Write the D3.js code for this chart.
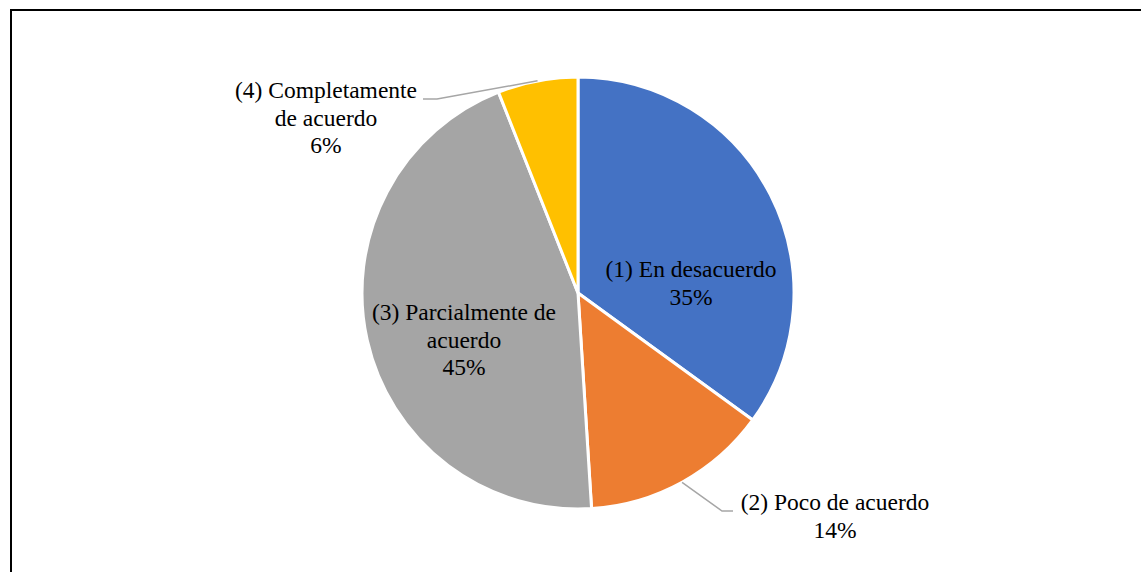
<!DOCTYPE html>
<html>
<head>
<meta charset="utf-8">
<script src="https://cdn.jsdelivr.net/npm/d3@7/dist/d3.min.js"></script>
<style>
  html, body { margin: 0; padding: 0; background: #fff; }
  svg { display: block; }
</style>
</head>
<body>
<svg id="chart" width="1141" height="572"></svg>
<script>
// Response categories and their shares (%)
const categories = [
  "(1) En desacuerdo",
  "(2) Poco de acuerdo",
  "(3) Parcialmente de acuerdo",
  "(4) Completamente de acuerdo"
];
const values = [35, 14, 45, 6];
const colors = ["#4472C4", "#ED7D31", "#A5A5A5", "#FFC000"];
// Label text split into lines
const labelLines = [
  ["(1) En desacuerdo"],
  ["(2) Poco de acuerdo"],
  ["(3) Parcialmente de", "acuerdo"],
  ["(4) Completamente", "de acuerdo"]
];

// Layout
const W = 1141, H = 572;
const cx = 578, cy = 293, R = 216;
const fontFamily = "'Liberation Serif', 'Times New Roman', Times, serif";
const fontSize = 23.5, lineH = 27.5;
// Label anchor (centre x, first baseline y) relative to pie centre, and leader geometry
const labelLayout = [
  { dx: 113, dy: -16, leader: false },
  { dx: 257, dy: 217, leader: true, elbowX: 144, endX: 155 },
  { dx: -114, dy: 27, leader: false },
  { dx: -252, dy: -195, leader: true, elbowX: -141, endX: -155 }
];

const svg = d3.select("#chart");

// Chart area frame
svg.append("rect")
  .attr("x", 11).attr("y", 10)
  .attr("width", W + 100).attr("height", H + 100)
  .attr("fill", "#fff")
  .attr("stroke", "#000")
  .attr("stroke-width", 2);

const pie = d3.pie().sort(null).value(d => d)(values);
const arc = d3.arc().innerRadius(0).outerRadius(R);
const edge = d3.arc().innerRadius(R).outerRadius(R);

const g = svg.append("g").attr("transform", `translate(${cx},${cy})`);

g.selectAll("path.slice")
  .data(pie)
  .join("path")
  .attr("class", "slice")
  .attr("d", arc)
  .attr("fill", (d, i) => colors[i])
  .attr("stroke", "#fff")
  .attr("stroke-width", 3)
  .attr("stroke-linejoin", "round");

// Leader lines for outside labels
pie.forEach((d, i) => {
  const L = labelLayout[i];
  if (!L.leader) return;
  const [px, py] = edge.centroid(d);
  const lineY = L.dy + 1;
  g.append("polyline")
    .attr("points", [[px, py], [L.elbowX, lineY], [L.endX, lineY]].map(p => p.join(",")).join(" "))
    .attr("fill", "none")
    .attr("stroke", "#A6A6A6")
    .attr("stroke-width", 1.5);
});

// Data labels: category lines then percentage
pie.forEach((d, i) => {
  const L = labelLayout[i];
  const lines = labelLines[i].concat([d3.format(".0f")(d.data) + "%"]);
  const t = g.append("text")
    .attr("text-anchor", "middle")
    .attr("font-family", fontFamily)
    .attr("font-size", fontSize)
    .attr("fill", "#000");
  lines.forEach((s, k) => {
    t.append("tspan")
      .attr("x", L.dx)
      .attr("y", L.dy + k * lineH)
      .text(s);
  });
});
</script>
</body>
</html>
